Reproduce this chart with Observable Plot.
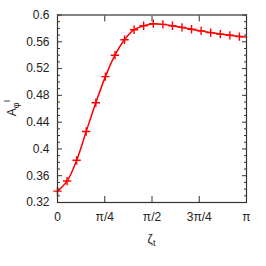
<!DOCTYPE html>
<html>
<head>
<meta charset="utf-8">
<script src="https://cdn.jsdelivr.net/npm/d3@7"></script>
<script src="https://cdn.jsdelivr.net/npm/@observablehq/plot@0.6"></script>
<style>
  html, body { margin: 0; padding: 0; background: #fff; }
  #chart { width: 266px; height: 266px; }
  svg text { font-family: "Liberation Sans", Arial, sans-serif; }
</style>
</head>
<body>
<div id="chart"></div>
<script>
// Data (zeta_t in radians, A_phi^I)
const zeta = [0, 0.159, 0.318, 0.477, 0.637, 0.796, 0.955, 1.114, 1.273, 1.432,
              1.592, 1.751, 1.910, 2.069, 2.228, 2.387, 2.546, 2.706, 2.865, 3.024, Math.PI];
const amp  = [0.337, 0.352, 0.383, 0.426, 0.469, 0.508, 0.540, 0.563, 0.578, 0.584,
              0.587, 0.586, 0.584, 0.5815, 0.5787, 0.5763, 0.5737, 0.5715, 0.5697, 0.5678, 0.567];
const markerCount = 20; // markers on the first 20 samples
const xTicks = [0, Math.PI / 4, Math.PI / 2, 3 * Math.PI / 4, Math.PI];
const xTickLabels = ["0", "π/4", "π/2", "3π/4", "π"];
const yTicks = [0.32, 0.36, 0.40, 0.44, 0.48, 0.52, 0.56, 0.60];
const yTickLabels = ["0.32", "0.36", "0.4", "0.44", "0.48", "0.52", "0.56", "0.6"];
const yMinor = [0.33, 0.34, 0.35, 0.37, 0.38, 0.39, 0.41, 0.42, 0.43, 0.45, 0.46, 0.47,
                0.49, 0.50, 0.51, 0.53, 0.54, 0.55, 0.57, 0.58, 0.59];

const line = zeta.map((x, i) => ({x, y: amp[i]}));
const pts = line.slice(0, markerCount);

const axisColor = "#333";
const chart = Plot.plot({
  width: 266,
  height: 266,
  marginLeft: 57,
  marginRight: 20,
  marginTop: 14.5,
  marginBottom: 64,
  style: {fontSize: "12px", fontFamily: "Liberation Sans, Arial, sans-serif", color: "#222", background: "#fff"},
  x: {domain: [0, Math.PI]},
  y: {domain: [0.32, 0.6]},
  marks: [
    Plot.line(line, {x: "x", y: "y", stroke: "#ff0000", strokeWidth: 1.5, curve: "catmull-rom"}),
    Plot.dot(pts, {x: "x", y: "y", symbol: "plus", r: 2.8, stroke: "#ff0000", strokeWidth: 1.4}),
    Plot.axisX({anchor: "bottom", ticks: xTicks, tickSize: -6, tickPadding: 16, stroke: axisColor,
      tickFormat: (d, i) => xTickLabels[xTicks.indexOf(d)], label: null}),
    Plot.axisX({anchor: "top", ticks: xTicks, tickSize: -6, text: null, stroke: axisColor, label: null}),
    Plot.axisY({anchor: "left", ticks: yTicks, tickSize: -5, tickPadding: 13, stroke: axisColor,
      tickFormat: d => yTickLabels[yTicks.indexOf(d)], label: null}),
    Plot.axisY({anchor: "left", ticks: yMinor, tickSize: -3, text: null, stroke: axisColor, label: null}),
    Plot.axisY({anchor: "right", ticks: yTicks, tickSize: -5, text: null, stroke: axisColor, label: null}),
    Plot.axisY({anchor: "right", ticks: yMinor, tickSize: -3, text: null, stroke: axisColor, label: null}),
    Plot.frame({stroke: axisColor, strokeWidth: 1.2})
  ]
});
document.getElementById("chart").appendChild(chart);

// Axis titles with sub/superscripts
const svg = d3.select(chart);
const xl = svg.append("text")
  .attr("x", 151.5).attr("y", 243)
  .attr("text-anchor", "middle")
  .attr("fill", "#222").style("font-size", "12px");
xl.append("tspan").text("ζ");
xl.append("tspan").attr("dy", 3).style("font-size", "9px").text("t");

const yl = svg.append("text")
  .attr("transform", "translate(16,108) rotate(-90)")
  .attr("text-anchor", "middle")
  .attr("fill", "#222").style("font-size", "12px");
yl.append("tspan").text("A");
yl.append("tspan").attr("dy", 3).style("font-size", "9px").text("φ");
yl.append("tspan").attr("dy", -9).style("font-size", "9px").text("I");
</script>
</body>
</html>
